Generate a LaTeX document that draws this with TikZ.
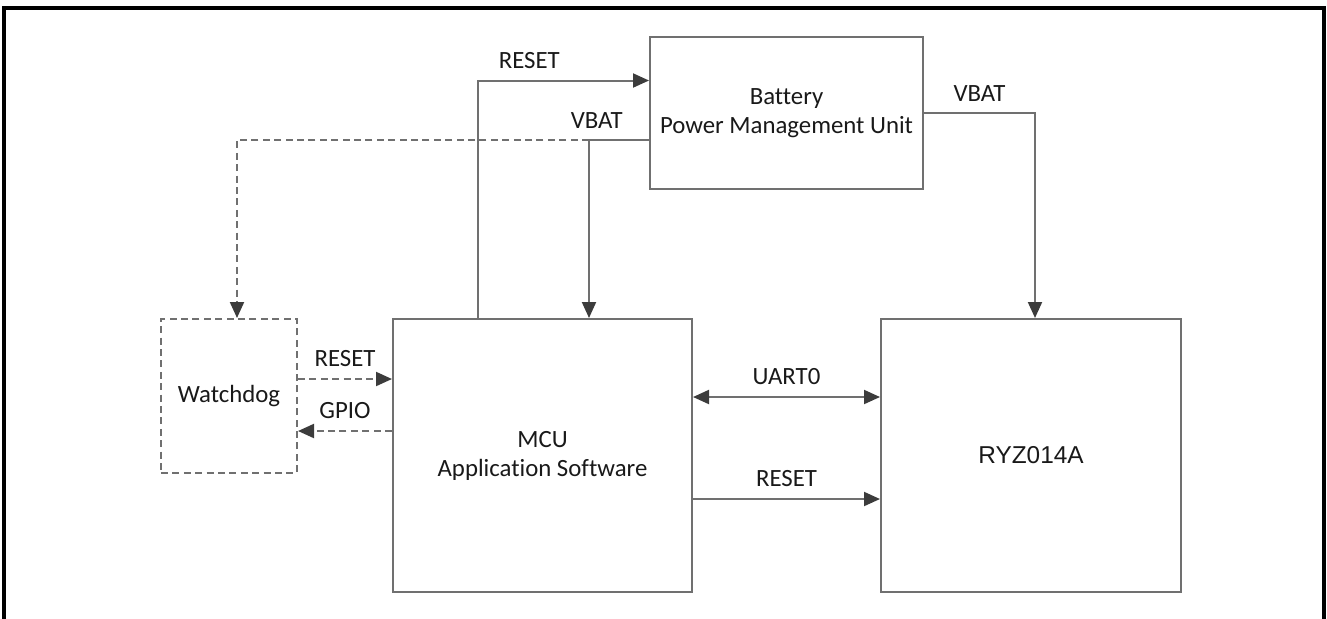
\documentclass[tikz,border=0pt]{standalone}
\usepackage{fontspec}
\setmainfont{Carlito}[Ligatures={NoCommon}]
\newfontfamily\arialfont{Liberation Sans}
\usetikzlibrary{arrows.meta, positioning}
\definecolor{boxgray}{RGB}{112,112,112}
\definecolor{tipgray}{RGB}{60,60,60}
\definecolor{txtgray}{RGB}{25,25,25}

\begin{document}
\begin{tikzpicture}[x=0.5pt,y=-0.5pt,>={Triangle[length=8pt,width=7pt,color=tipgray]},
        block/.style={draw=boxgray,line width=1pt,align=center,inner sep=0pt,
            text=txtgray,font=\fontsize{12.4}{14.5}\selectfont},
        dblock/.style={block,dash pattern=on 3.5pt off 2.2pt},
        wire/.style={draw=boxgray,line width=1pt},
        dwire/.style={wire,dash pattern=on 3.5pt off 2.2pt},
        sig/.style={inner sep=0pt,above=5.5pt,text=txtgray,font=\fontsize{12.4}{14.5}\selectfont}]

    \useasboundingbox (0,0) rectangle (1327,618);
    \draw[line width=1.6pt] (4,630) -- (4,8) -- (1324,8) -- (1324,630);

    \node[block,minimum width=136.5pt,minimum height=76pt] (bpmu) at (786.5,113) {Battery\\Power Management Unit};
    \node[block,minimum width=149.5pt,minimum height=136.5pt] (mcu) at (542.5,455.5) {MCU\\Application Software};
    \node[block,minimum width=150pt,minimum height=136.5pt,font=\arialfont\fontsize{12.2}{14.5}\selectfont] (ryz) [right=93.5pt of mcu] {RYZ014A};
    \node[dblock,minimum width=68pt,minimum height=77pt,anchor=north east] (wdog) at ([xshift=-47pt]mcu.north west) {Watchdog};

    % taps on the supply and reset lines
    \coordinate (rtap) at (478,80.5);
    \coordinate (vtap) at (589,140);

    \draw[wire,->] (rtap |- mcu.north) |- node[sig,pos=0.65] {RESET} (bpmu.west |- rtap);
    \draw[wire] (bpmu.west |- vtap) -- node[sig,pos=0.87] {VBAT} (vtap);
    \draw[wire,->] (vtap) -- (vtap |- mcu.north);
    \draw[dwire,->] (vtap) -| ([xshift=4pt]wdog.north);
    \draw[wire,->] (bpmu.east) -| node[sig,pos=0.25] {VBAT} ([xshift=2pt]ryz.north);

    \draw[dwire,->] ([yshift=8.5pt]wdog.east) -- node[sig] {RESET} ([yshift=8.5pt]wdog.east -| mcu.west);
    \draw[dwire,->] ([yshift=-17.5pt]wdog.east -| mcu.west) -- node[sig] {GPIO} ([yshift=-17.5pt]wdog.east);
    \draw[wire,<->] ([yshift=29.25pt]mcu.east) -- node[sig] {UART0} ([yshift=29.25pt]mcu.east -| ryz.west);
    \draw[wire,->] ([yshift=-21.75pt]mcu.east) -- node[sig] {RESET} ([yshift=-21.75pt]mcu.east -| ryz.west);
\end{tikzpicture}
\end{document}
